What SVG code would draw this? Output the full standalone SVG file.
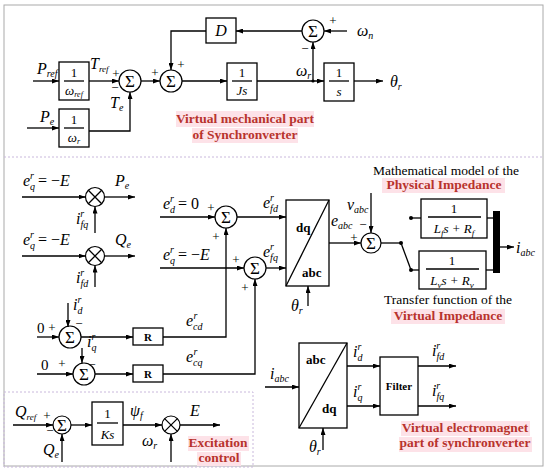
<svg xmlns="http://www.w3.org/2000/svg" width="550" height="475" viewBox="0 0 550 475">
<defs>
<marker id="ar" markerWidth="7" markerHeight="5" refX="7" refY="2.5" orient="auto" markerUnits="userSpaceOnUse"><path d="M0,0 L7,2.5 L0,5 z" fill="#000"/></marker>
<style>
.ln{fill:none;stroke:#000;stroke-width:1.3}
.bx{fill:#fff;stroke:#000;stroke-width:1.3}
.sm{fill:#fff;stroke:#000;stroke-width:1.2}
.t{font-family:"Liberation Serif","Times New Roman",serif;fill:#000}
.m{font-style:italic;font-size:16px}
.s{font-size:10px}
.sg{font-size:13px;text-anchor:middle}
.sig{font-size:17px;text-anchor:middle}
.fr{font-size:13px;text-anchor:middle}
.b{font-weight:bold}
.red{font-family:"Liberation Serif","Times New Roman",serif;font-weight:bold;fill:#b8332d;font-size:13.5px;text-anchor:middle}
.blk{font-family:"Liberation Serif","Times New Roman",serif;font-size:13.5px;text-anchor:middle;fill:#000}
.hl{fill:#fde2e8}
.frame{fill:none;stroke:#aaa;stroke-width:1}
.dot{fill:none;stroke:#c9b8dc;stroke-width:1;stroke-dasharray:2,2}
</style>
</defs>
<rect x="0" y="0" width="550" height="475" fill="#fff"/>
<rect class="frame" x="4" y="5" width="539" height="461"/>
<line class="dot" x1="4" y1="157" x2="543" y2="157"/>

<!-- top section -->
<g id="box_wref">
<rect class="bx" x="59" y="62" width="30" height="38"/>
<text class="t fr" x="74" y="77">1</text>
<line class="ln" x1="64" y1="81" x2="84" y2="81" stroke-width="1"/>
<text class="t fr" x="74" y="95" font-style="italic">ω<tspan font-size="8" dy="2">ref</tspan></text>
</g>
<g id="box_wr">
<rect class="bx" x="59" y="109" width="30" height="38"/>
<text class="t fr" x="74" y="124">1</text>
<line class="ln" x1="64" y1="128" x2="84" y2="128" stroke-width="1"/>
<text class="t fr" x="74" y="142" font-style="italic">ω<tspan font-size="8" dy="2">r</tspan></text>
</g>
<g id="sum1">
<circle class="sm" cx="130" cy="81" r="11"/>
<text class="t sig" x="130" y="87">Σ</text>
</g>
<g id="sum2">
<circle class="sm" cx="171" cy="81" r="11"/>
<text class="t sig" x="171" y="87">Σ</text>
</g>
<g id="boxD">
<rect class="bx" x="206" y="18" width="30" height="25"/>
<text class="t m" x="221" y="36" text-anchor="middle">D</text>
</g>
<g id="box_Js">
<rect class="bx" x="227" y="63" width="30" height="37"/>
<text class="t fr" x="242" y="77">1</text>
<line class="ln" x1="232" y1="81" x2="252" y2="81" stroke-width="1"/>
<text class="t fr" x="242" y="95" font-style="italic">Js</text>
</g>
<g id="sum3">
<circle class="sm" cx="313" cy="31" r="11"/>
<text class="t sig" x="313" y="37">Σ</text>
</g>
<g id="box_s">
<rect class="bx" x="324" y="63" width="30" height="38"/>
<text class="t fr" x="339" y="77">1</text>
<line class="ln" x1="329" y1="81" x2="349" y2="81" stroke-width="1"/>
<text class="t fr" x="339" y="96" font-style="italic">s</text>
</g>

<!-- middle section nodes -->
<g id="mulP">
<circle class="sm" cx="95" cy="197" r="9.5"/>
<path class="ln" d="M88.3,190.3 L101.7,203.7 M101.7,190.3 L88.3,203.7"/>
</g>
<g id="mulQ">
<circle class="sm" cx="95" cy="256" r="9.5"/>
<path class="ln" d="M88.3,249.3 L101.7,262.7 M101.7,249.3 L88.3,262.7"/>
</g>
<g id="sumd">
<circle class="sm" cx="226" cy="217" r="11"/>
<text class="t sig" x="226" y="223">Σ</text>
</g>
<g id="sumq">
<circle class="sm" cx="255" cy="268" r="11"/>
<text class="t sig" x="255" y="274">Σ</text>
</g>
<g id="dq2abc">
<rect class="bx" x="286" y="200" width="43" height="86"/>
<line class="ln" x1="286" y1="286" x2="329" y2="200" stroke-width="1"/>
<text class="t b" x="296" y="232" font-size="13">dq</text>
<text class="t b" x="302" y="277" font-size="13">abc</text>
</g>
<g id="sumv">
<circle class="sm" cx="371" cy="243" r="10"/>
<text class="t sig" x="371" y="249">Σ</text>
</g>
<g id="switch">
<circle cx="401" cy="243" r="2" fill="#000"/>
<circle cx="411" cy="218" r="2" fill="#000"/>
<circle cx="411" cy="270" r="2" fill="#000"/>
<line class="ln" x1="401" y1="243" x2="411" y2="270"/>
</g>
<g id="box_phys">
<rect class="bx" x="421" y="199" width="66" height="39"/>
<text class="t fr" x="454" y="213">1</text>
<line class="ln" x1="428" y1="217" x2="481" y2="217" stroke-width="1"/>
<text class="t fr" x="454" y="233" font-size="14" font-style="italic">L<tspan font-size="9" dy="3">f</tspan><tspan dy="-3">s + R</tspan><tspan font-size="9" dy="3">f</tspan></text>
</g>
<g id="box_virt">
<rect class="bx" x="419" y="251" width="67" height="38"/>
<text class="t fr" x="452" y="265">1</text>
<line class="ln" x1="426" y1="269" x2="479" y2="269" stroke-width="1"/>
<text class="t fr" x="452" y="285" font-size="14" font-style="italic">L<tspan font-size="9" dy="3">v</tspan><tspan dy="-3">s + R</tspan><tspan font-size="9" dy="3">v</tspan></text>
</g>
<g id="bar">
<rect x="493" y="211" width="7" height="62" fill="#000"/>
</g>
<g id="sumcd">
<circle class="sm" cx="70" cy="337" r="11"/>
<text class="t sig" x="70" y="343">Σ</text>
</g>
<g id="R1">
<rect class="bx" x="133" y="328" width="30" height="17"/>
<text class="t b" x="148" y="341" font-size="11" text-anchor="middle">R</text>
</g>
<g id="sumcq">
<circle class="sm" cx="84" cy="374" r="11"/>
<text class="t sig" x="84" y="380">Σ</text>
</g>
<g id="R2">
<rect class="bx" x="133" y="365" width="30" height="17"/>
<text class="t b" x="148" y="378" font-size="11" text-anchor="middle">R</text>
</g>
<g id="abc2dq">
<rect class="bx" x="299" y="343" width="48" height="85"/>
<line class="ln" x1="299" y1="428" x2="347" y2="343" stroke-width="1"/>
<text class="t b" x="306" y="364" font-size="13">abc</text>
<text class="t b" x="322" y="413" font-size="13">dq</text>
</g>
<g id="filter">
<rect class="bx" x="380" y="357" width="38" height="58"/>
<text class="t b" x="399" y="390" font-size="11" text-anchor="middle">Filter</text>
</g>

<!-- excitation -->
<rect x="4" y="392" width="249" height="75" class="dot"/>
<g id="sumE">
<circle class="sm" cx="62" cy="425" r="9"/>
<text class="t sig" x="62" y="430.5" font-size="15">Σ</text>
</g>
<g id="box_Ks">
<rect class="bx" x="92" y="402" width="31" height="43"/>
<text class="t fr" x="107.5" y="418">1</text>
<line class="ln" x1="97" y1="423" x2="118" y2="423" stroke-width="1"/>
<text class="t fr" x="107.5" y="439" font-style="italic">Ks</text>
</g>
<g id="mulE">
<circle class="sm" cx="171" cy="425" r="9"/>
<path class="ln" d="M164.6,418.6 L177.4,431.4 M177.4,418.6 L164.6,431.4"/>
</g>

<!-- connectors -->
<g id="connectors" class="ln" marker-end="url(#ar)">
<path d="M33,81 H59"/>
<path d="M27,128 H59"/>
<path d="M89,81 H119"/>
<path d="M89,131 H130 V92"/>
<path d="M141,81 H160"/>
<path d="M206,31 H171 V70"/>
<path d="M182,81 H227"/>
<path d="M257,81 H324"/>
<path d="M313,81 V42"/>
<path d="M302,31 H236"/>
<path d="M347,31 H324"/>
<path d="M354,81 H383"/>
<path d="M22,197 H85.5"/>
<path d="M104.5,197 H135"/>
<path d="M95,233 V206.5"/>
<path d="M22,256 H85.5"/>
<path d="M104.5,256 H135"/>
<path d="M95,287 V265.5"/>
<path d="M160,217 H215"/>
<path d="M237,217 H286"/>
<path d="M160,268 H244"/>
<path d="M266,268 H286"/>
<path d="M308,306 V286"/>
<path d="M163,337 H226 V228"/>
<path d="M163,374 H255 V279"/>
<path d="M329,243 H361"/>
<path d="M371,193 V233"/>
<path d="M381,243 H401" marker-end="none"/>
<path d="M411,218 H421" marker-end="none"/>
<path d="M411,270 H419" marker-end="none"/>
<path d="M487,218 H493" marker-end="none"/>
<path d="M486,270 H493" marker-end="none"/>
<path d="M500,247 H514"/>
<path d="M37,337 H59"/>
<path d="M68,303 V327"/>
<path d="M81,337 H133"/>
<path d="M37,374 H73"/>
<path d="M82,348 V363"/>
<path d="M95,374 H133"/>
<path d="M265,387 H299"/>
<path d="M323,450 V428"/>
<path d="M347,366 H380"/>
<path d="M347,406 H380"/>
<path d="M418,366 H456"/>
<path d="M418,406 H456"/>
<path d="M13,425 H53"/>
<path d="M62,462 V434"/>
<path d="M71,425 H92"/>
<path d="M123,425 H162"/>
<path d="M180,425 H220"/>
<path d="M171,462 V434"/>
</g>
<circle cx="313" cy="81" r="1.6" fill="#000"/>

<!-- labels -->
<g id="labels">
<text class="t m" x="37" y="74">P<tspan class="s" dy="3">ref</tspan></text>
<text class="t m" x="40" y="122">P<tspan class="s" dy="3">e</tspan></text>
<text class="t m" x="90" y="69">T<tspan font-size="9" dy="3">ref</tspan></text>
<text class="t sg" x="116" y="78">+</text>
<text class="t sg" x="115" y="92">−</text>
<text class="t m" x="110" y="108">T<tspan class="s" dy="3">e</tspan></text>
<text class="t sg" x="155" y="77">+</text>
<text class="t sg" x="181" y="69">+</text>
<text class="t sg" x="333" y="25">+</text>
<text class="t sg" x="305" y="53">−</text>
<text class="t m" x="357" y="36" font-size="17">ω<tspan class="s" dy="3">n</tspan></text>
<text class="t m" x="296" y="76">ω<tspan class="s" dy="3">r</tspan></text>
<text class="t m" x="390" y="87" font-size="17">θ<tspan class="s" dy="3">r</tspan></text>

<text class="t m" x="23" y="186">e<tspan class="s" dy="4">q</tspan><tspan class="s" dx="-5" dy="-11">r</tspan><tspan dy="7" font-style="normal"> = −</tspan>E</text>
<text class="t m" x="115" y="186">P<tspan class="s" dy="3">e</tspan></text>
<text class="t m" x="76" y="224">i<tspan class="s" dy="4">fq</tspan><tspan class="s" dx="-8" dy="-11">r</tspan></text>
<text class="t m" x="23" y="245">e<tspan class="s" dy="4">q</tspan><tspan class="s" dx="-5" dy="-11">r</tspan><tspan dy="7" font-style="normal"> = −</tspan>E</text>
<text class="t m" x="115" y="245">Q<tspan class="s" dy="3">e</tspan></text>
<text class="t m" x="76" y="283">i<tspan class="s" dy="4">fd</tspan><tspan class="s" dx="-8" dy="-11">r</tspan></text>

<text class="t m" x="163" y="209">e<tspan class="s" dy="4">d</tspan><tspan class="s" dx="-5" dy="-11">r</tspan><tspan dy="7" font-style="normal"> = 0</tspan></text>
<text class="t sg" x="211" y="212">+</text>
<text class="t sg" x="216" y="241">+</text>
<text class="t m" x="263" y="208">e<tspan class="s" dy="4">fd</tspan><tspan class="s" dx="-8" dy="-11">r</tspan></text>
<text class="t m" x="163" y="260">e<tspan class="s" dy="4">q</tspan><tspan class="s" dx="-5" dy="-11">r</tspan><tspan dy="7" font-style="normal"> = −</tspan>E</text>
<text class="t sg" x="236" y="264">+</text>
<text class="t sg" x="245" y="292">+</text>
<text class="t m" x="263" y="257">e<tspan class="s" dy="4">fq</tspan><tspan class="s" dx="-8" dy="-11">r</tspan></text>
<text class="t m" x="291" y="311">θ<tspan class="s" dy="3">r</tspan></text>
<text class="t m" x="331" y="226">e<tspan class="s" dy="3">abc</tspan></text>
<text class="t sg" x="354" y="242">+</text>
<text class="t m" x="347" y="210">v<tspan class="s" dy="3">abc</tspan></text>
<text class="t sg" x="363" y="229">−</text>
<text class="t m" x="516" y="253">i<tspan class="s" dy="3">abc</tspan></text>

<text class="t" x="37" y="333" font-size="15">0</text>
<text class="t sg" x="52" y="332">+</text>
<text class="t m" x="73" y="310">i<tspan class="s" dy="4">d</tspan><tspan class="s" dx="-5" dy="-11">r</tspan></text>
<text class="t sg" x="79" y="328">−</text>
<text class="t m" x="186" y="326">e<tspan class="s" dy="4">cd</tspan><tspan class="s" dx="-9" dy="-11">r</tspan></text>
<text class="t" x="41" y="370" font-size="15">0</text>
<text class="t sg" x="62" y="368">+</text>
<text class="t m" x="87" y="347">i<tspan class="s" dy="4">q</tspan><tspan class="s" dx="-5" dy="-11">r</tspan></text>
<text class="t sg" x="92" y="369">−</text>
<text class="t m" x="186" y="362">e<tspan class="s" dy="4">cq</tspan><tspan class="s" dx="-9" dy="-11">r</tspan></text>

<text class="t m" x="270" y="379">i<tspan class="s" dy="3">abc</tspan></text>
<text class="t m" x="309" y="452">θ<tspan class="s" dy="3">r</tspan></text>
<text class="t m" x="353" y="357">i<tspan class="s" dy="4">d</tspan><tspan class="s" dx="-5" dy="-11">r</tspan></text>
<text class="t m" x="353" y="397">i<tspan class="s" dy="4">q</tspan><tspan class="s" dx="-5" dy="-11">r</tspan></text>
<text class="t m" x="432" y="356">i<tspan class="s" dy="4">fd</tspan><tspan class="s" dx="-8" dy="-11">r</tspan></text>
<text class="t m" x="432" y="396">i<tspan class="s" dy="4">fq</tspan><tspan class="s" dx="-8" dy="-11">r</tspan></text>

<text class="t m" x="15" y="417">Q<tspan font-size="9" dy="3">ref</tspan></text>
<text class="t sg" x="47" y="420">+</text>
<text class="t sg" x="50" y="435">−</text>
<text class="t m" x="43" y="455">Q<tspan class="s" dy="3">e</tspan></text>
<text class="t m" x="130" y="416">ψ<tspan class="s" dy="3">f</tspan></text>
<text class="t m" x="190" y="416">E</text>
<text class="t m" x="142" y="446">ω<tspan class="s" dy="3">r</tspan></text>
</g>

<!-- section captions -->
<g id="captions">
<rect class="hl" x="176" y="111" width="138" height="16"/>
<rect class="hl" x="192" y="128" width="106" height="15"/>
<text class="red" x="245" y="123">Virtual mechanical part</text>
<text class="red" x="245" y="139">of Synchronverter</text>

<text class="blk" x="446" y="175">Mathematical model of the</text>
<rect class="hl" x="382" y="178" width="123" height="15"/>
<text class="red" x="444" y="189" font-size="14">Physical Impedance</text>

<text class="blk" x="448" y="304">Transfer function of the</text>
<rect class="hl" x="391" y="309" width="114" height="15"/>
<text class="red" x="448" y="320">Virtual Impedance</text>

<rect class="hl" x="401" y="421" width="129" height="15"/>
<rect class="hl" x="399" y="437" width="133" height="15"/>
<text class="red" x="465" y="432">Virtual electromagnet</text>
<text class="red" x="465" y="447">part of synchronverter</text>

<rect class="hl" x="188" y="436" width="61" height="15"/>
<rect class="hl" x="197" y="452" width="44" height="14"/>
<text class="red" x="218" y="447" font-size="13">Excitation</text>
<text class="red" x="219" y="462" font-size="13">control</text>
</g>
</svg>
